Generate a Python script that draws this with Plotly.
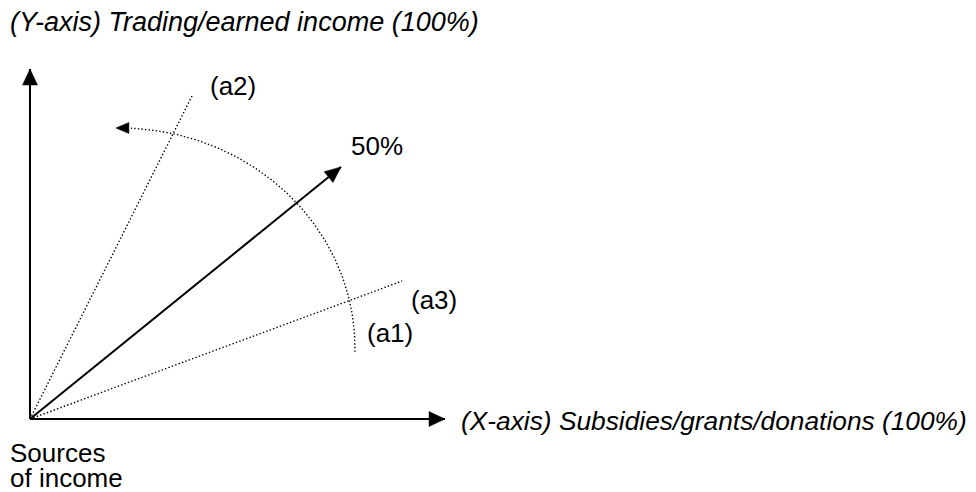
import numpy as np
import plotly.graph_objects as go

# ---- diagram data (units: px offset from the origin, y pointing up) ----
axis_x_end = [415, 0]
axis_y_end = [0, 350]
share_50_end = [311, 252]
dotted_names = ["a2", "a3"]
dotted_ends = [[162, 323], [372, 138]]
arc_center = [90, 71]
arc_radii = [235, 220]
arc_angles_deg = [-1, 91]

label_texts = ["(Y-axis) Trading/earned income (100%)",
               "(X-axis) Subsidies/grants/donations (100%)",
               "(a2)", "50%", "(a3)", "(a1)", "Sources", "of income"]
label_pos = [[-22, 397], [429, -2], [178, 333], [319, 273],
             [379, 119], [335, 86], [-22, -34], [-22, -59]]

PAGE_MARGIN = 8          # default body margin of the html page
W, H = 976 - PAGE_MARGIN, 492 - PAGE_MARGIN
OX, OY = 30, 419  # origin position in the page

label_style = [dict(size=27, style="italic"), dict(size=26.3, style="italic")] + \
    [dict(size=26, style="normal")] * 6

fig = go.Figure()


def head(tip, prev, L, Wd):
    tip = np.array(tip, float)
    prev = np.array(prev, float)
    d = tip - prev
    d /= np.linalg.norm(d)
    p = np.array([-d[1], d[0]])
    base = tip - d * L
    pts = [tip, base + p * Wd / 2, base - p * Wd / 2, tip]
    return [q[0] for q in pts], [q[1] for q in pts]


def line(p0, p1, width, dash="solid"):
    fig.add_trace(go.Scatter(x=[p0[0], p1[0]], y=[p0[1], p1[1]], mode="lines",
                             line=dict(color="black", width=width, dash=dash),
                             hoverinfo="skip", showlegend=False))


def tri(xs, ys):
    fig.add_trace(go.Scatter(x=xs, y=ys, mode="lines", fill="toself",
                             fillcolor="black", line=dict(color="black", width=0.5),
                             hoverinfo="skip", showlegend=False))


DOT = "1.4px,2.2px"

# dotted lines a2, a3
for e in dotted_ends:
    line([0, 0], e, 1.4, DOT)

# axes
line([0, 0], axis_x_end, 2)
line([0, 0], axis_y_end, 2)
tri(*head(axis_x_end, [0, 0], 16, 15))
tri(*head(axis_y_end, [0, 0], 16, 15))

# 50% arrow
line([0, 0], share_50_end, 2)
tri(*head(share_50_end, [0, 0], 16, 14))

# dotted arc with arrow
t = np.radians(np.linspace(arc_angles_deg[0], arc_angles_deg[1], 200))
ax_ = arc_center[0] + arc_radii[0] * np.cos(t)
ay_ = arc_center[1] + arc_radii[1] * np.sin(t)
fig.add_trace(go.Scatter(x=ax_[:-8], y=ay_[:-8], mode="lines",
                         line=dict(color="black", width=1.4, dash=DOT),
                         hoverinfo="skip", showlegend=False))
tri(*head([ax_[-1], ay_[-1]], [ax_[-4], ay_[-4]], 13, 11))

for txt, (x, y), st in zip(label_texts, label_pos, label_style):
    fig.add_annotation(x=x, y=y, xref="x", yref="y", text=txt, showarrow=False,
                       xanchor="left", yanchor="middle",
                       font=dict(family="Liberation Sans, Arial", color="black", **st))

x0 = -(OX - PAGE_MARGIN)
y1 = OY - PAGE_MARGIN
fig.update_xaxes(range=[x0, x0 + W], visible=False, fixedrange=True)
fig.update_yaxes(range=[y1 - H, y1], visible=False, fixedrange=True)
fig.update_layout(width=W, height=H, margin=dict(l=0, r=0, t=0, b=0),
                  plot_bgcolor="white", paper_bgcolor="white", showlegend=False)
fig.write_html("out.html")
